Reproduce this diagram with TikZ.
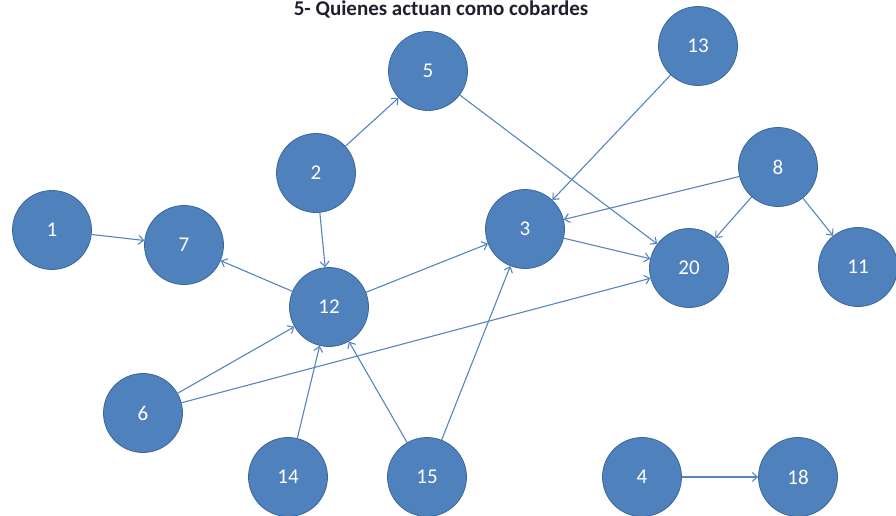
\documentclass[tikz,border=0pt]{standalone}
\usepackage{fontspec}
\setmainfont{Carlito}
\usetikzlibrary{arrows.meta}
\definecolor{nodefill}{HTML}{4F81BD}
\definecolor{nodeline}{HTML}{3A679C}
\definecolor{edgecol}{HTML}{5585C0}
\definecolor{titlecol}{HTML}{1F1F2F}
\begin{document}
\begin{tikzpicture}[x=1pt,y=-1pt,
  vtx/.style={circle,fill=nodefill,draw=nodeline,line width=0.8pt,minimum size=79pt,inner sep=0pt,text=white,font=\fontsize{21}{21}\selectfont},
  edge/.style={draw=edgecol,line width=1.1pt,-{Straight Barb[length=5pt,width=9pt]}}]
\useasboundingbox (0,0) rectangle (896,516);
\node[anchor=base,font=\bfseries\fontsize{21}{21}\selectfont,text=titlecol] (title) at (441,15.5) {5- Quienes actuan como cobardes};
\node[vtx] (n1) at (52,230) {1};
\node[vtx] (n7) at (184,245) {7};
\node[vtx] (n2) at (316,173) {2};
\node[vtx] (n5) at (428,71) {5};
\node[vtx] (n13) at (698,46) {13};
\node[vtx] (n8) at (778,167) {8};
\node[vtx] (n3) at (525,229) {3};
\node[vtx] (n20) at (689,268) {20};
\node[vtx] (n11) at (858,267) {11};
\node[vtx] (n12) at (329,307) {12};
\node[vtx] (n6) at (143,413) {6};
\node[vtx] (n14) at (288,477) {14};
\node[vtx] (n15) at (427,477) {15};
\node[vtx] (n4) at (642,477) {4};
\node[vtx] (n18) at (798,477) {18};
\draw[edge] (n1) -- (n7);
\draw[edge] (n12) -- (n7);
\draw[edge] (n2) -- (n5);
\draw[edge] (n2) -- (n12);
\draw[edge] (n5) -- (n20);
\draw[edge] (n13) -- (n3);
\draw[edge] (n8) -- (n3);
\draw[edge] (n8) -- (n20);
\draw[edge] (n8) -- (n11);
\draw[edge] (n12) -- (n3);
\draw[edge] (n3) -- (n20);
\draw[edge] (n6) -- (n12);
\draw[edge] (n6) -- (n20);
\draw[edge] (n14) -- (n12);
\draw[edge] (n15) -- (n12);
\draw[edge] (n15) -- (n3);
\draw[edge] (n4) -- (n18);
\end{tikzpicture}
\end{document}
